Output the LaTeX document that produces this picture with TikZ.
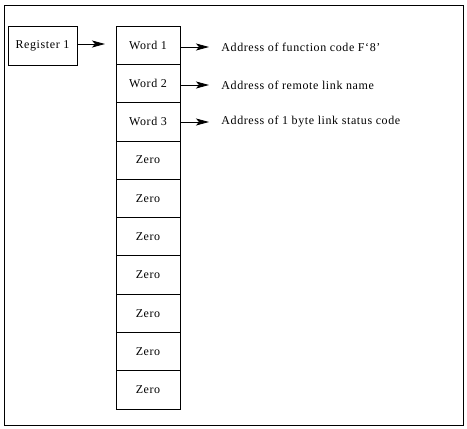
\documentclass[tikz,border=0pt]{standalone}
\usepackage{fontspec}
\setmainfont{Liberation Serif}[LetterSpace=5]
\usetikzlibrary{arrows.meta}
\begin{document}
\begin{tikzpicture}[x=1pt,y=-1pt,line width=0.8pt,
  txt/.style={font=\fontsize{12}{13}\selectfont},
  cell/.style={draw,txt,minimum width=64pt,minimum height=38.3pt,inner sep=0pt},
  lbl/.style={txt,anchor=west,inner sep=0pt},
  arr/.style={-{Stealth[length=13pt,width=7pt,inset=3pt]}}]
\useasboundingbox (0,0) rectangle (467,429);
\draw (4,5) rectangle (463,425);
\node[draw,txt,minimum width=69pt,minimum height=39pt,inner sep=0pt] (reg) at (42.5,45.5) {Register 1};
\foreach \t [count=\i] in {Word 1,Word 2,Word 3,Zero,Zero,Zero,Zero,Zero,Zero,Zero}{
  \node[cell] (c\i) at (148,{26+38.3*(\i-0.5)}) {\t};
}
\coordinate (r0) at (105,44);
\draw[arr] (reg.east |- r0) -- (r0);
\node[lbl] (a1) at (221,47) {Address of function code F‘8’};
\node[lbl] (a2) at (221,85) {Address of remote link name};
\node[lbl] (a3) at (221,122) {Address of 1 byte link status code};
\foreach \i in {1,2,3}{
  \coordinate (e\i) at (209,0 |- a\i);
  \draw[arr] (c\i.east |- a\i) -- (e\i);
}
\end{tikzpicture}
\end{document}
